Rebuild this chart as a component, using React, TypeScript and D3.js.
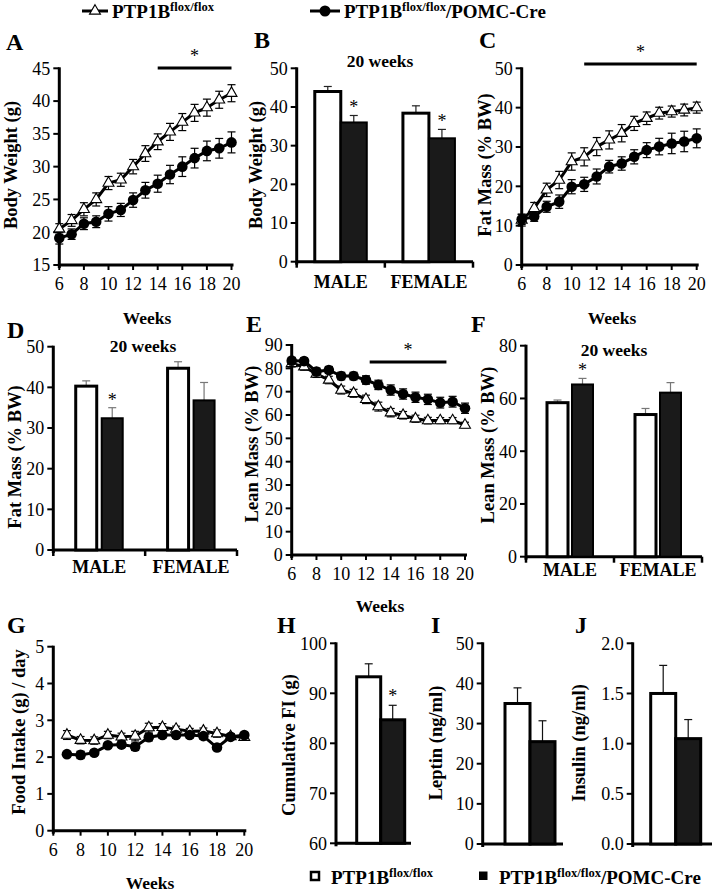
import React from "react";
import * as d3 from "d3";

// ---------- DATA ----------
const weeks = [6, 7, 8, 9, 10, 11, 12, 13, 14, 15, 16, 17, 18, 19, 20];
const weeksFI = [7, 8, 9, 10, 11, 12, 13, 14, 15, 16, 17, 18, 19, 20];
const weekTicks = [6, 8, 10, 12, 14, 16, 18, 20];

const bwCtrl = [20.5, 21.8, 23.5, 25.0, 27.5, 28.0, 30.0, 32.0, 33.8, 35.3, 36.8, 38.2, 39.0, 40.2, 41.2];
const bwCtrlErr = [0.8, 0.9, 1.0, 1.0, 1.0, 1.0, 1.1, 1.2, 1.2, 1.3, 1.3, 1.3, 1.3, 1.3, 1.3];
const bwCre = [19.1, 19.7, 21.3, 21.6, 22.8, 23.4, 24.9, 26.4, 27.4, 28.8, 30.0, 31.3, 32.4, 32.8, 33.7];
const bwCreErr = [0.9, 0.8, 0.9, 0.9, 1.1, 1.0, 1.1, 1.2, 1.3, 1.4, 1.5, 1.5, 1.5, 1.5, 1.6];

const fmCtrl = [11.4, 14.4, 19.1, 21.6, 26.3, 27.5, 30.1, 31.8, 33.5, 36.0, 37.3, 38.6, 39.0, 39.4, 40.0];
const fmCtrlErr = [1.5, 1.5, 1.7, 2.2, 2.2, 2.3, 2.3, 2.3, 2.2, 1.8, 1.6, 1.5, 1.4, 1.5, 1.4];
const fmCre = [11.6, 12.3, 14.8, 16.1, 19.9, 20.5, 22.5, 25.0, 25.8, 27.5, 29.2, 30.1, 30.9, 31.4, 32.2];
const fmCreErr = [1.3, 1.2, 1.4, 1.7, 1.8, 1.8, 1.9, 1.6, 1.7, 1.8, 1.9, 2.1, 2.6, 2.6, 2.4];

const lmCtrl = [82.1, 80.7, 77.6, 75.0, 70.7, 69.3, 66.7, 63.6, 61.0, 59.9, 58.4, 57.6, 57.6, 57.6, 55.7];
const lmCtrlErr = [1.5, 1.5, 1.5, 1.6, 1.7, 1.7, 1.8, 1.9, 1.8, 1.6, 1.5, 1.4, 1.3, 1.3, 1.2];
const lmCre = [83.3, 83.1, 78.6, 79.3, 76.7, 76.7, 75.0, 72.9, 70.7, 69.0, 67.6, 66.7, 65.3, 65.7, 62.9];
const lmCreErr = [1.4, 1.3, 1.5, 1.5, 1.6, 1.6, 1.8, 2.0, 2.2, 2.2, 2.2, 2.2, 2.3, 2.3, 2.2];

const fiCtrl = [2.6, 2.46, 2.45, 2.6, 2.55, 2.57, 2.8, 2.81, 2.76, 2.7, 2.71, 2.64, 2.56, 2.54];
const fiCtrlErr = [0.12, 0.1, 0.1, 0.1, 0.1, 0.13, 0.12, 0.1, 0.08, 0.08, 0.08, 0.1, 0.08, 0.08];
const fiCre = [2.08, 2.06, 2.12, 2.32, 2.34, 2.28, 2.54, 2.6, 2.6, 2.6, 2.57, 2.26, 2.55, 2.6];
const fiCreErr = [0.06, 0.1, 0.07, 0.07, 0.08, 0.1, 0.1, 0.08, 0.08, 0.08, 0.08, 0.08, 0.07, 0.06];

const sexes = ["MALE", "FEMALE"];
const bwBarCtrl = [44.0, 38.4];
const bwBarCtrlErr = [1.3, 1.9];
const bwBarCre = [36.0, 31.9];
const bwBarCreErr = [1.8, 2.3];
const fmBarCtrl = [40.3, 44.7];
const fmBarCtrlErr = [1.3, 1.6];
const fmBarCre = [32.4, 36.8];
const fmBarCreErr = [2.6, 4.4];
const lmBarCtrl = [58.4, 53.9];
const lmBarCtrlErr = [1.0, 2.3];
const lmBarCre = [65.3, 62.2];
const lmBarCreErr = [2.3, 3.8];

const cumFI = [93.3, 84.7];
const cumFIErr = [2.6, 2.9];
const leptin = [35.0, 25.5];
const leptinErr = [3.9, 5.2];
const insulin = [1.5, 1.05];
const insulinErr = [0.28, 0.19];

const FONT = "'Liberation Serif', 'Times New Roman', serif";
const TICK_FS = 18;

// ---------- HELPERS ----------
function YAxis({ x, y, ticks, fmt, bottomExt = 3 }: any) {
  const [r0, r1] = y.range();
  return (
    <g>
      <line x1={x} x2={x} y1={r1 - 1} y2={r0 + bottomExt} stroke="#000" strokeWidth={3} />
      {ticks.map((t: number) => (
        <g key={t}>
          <line x1={x - 6} x2={x} y1={y(t)} y2={y(t)} stroke="#000" strokeWidth={2} />
          <text x={x - 9} y={y(t)} dy="0.35em" textAnchor="end" fontSize={TICK_FS} fontFamily={FONT}>
            {fmt ? fmt(t) : t}
          </text>
        </g>
      ))}
    </g>
  );
}

function YTitle({ x, y, text }: any) {
  return (
    <text transform={`translate(${x},${y}) rotate(-90)`} textAnchor="middle" fontSize={18.5} fontWeight="bold" fontFamily={FONT}>
      {text}
    </text>
  );
}

function PanelLetter({ x, y, t }: any) {
  return (
    <text x={x} y={y} fontSize={24} fontWeight="bold" fontFamily={FONT}>
      {t}
    </text>
  );
}

function ErrBar({ x, y0, y1, color = "#000", cap = 4, both = false, y2 }: any) {
  return (
    <g stroke={color} strokeWidth={1.2}>
      <line x1={x} x2={x} y1={both ? y2 : y0} y2={y1} />
      <line x1={x - cap} x2={x + cap} y1={y1} y2={y1} />
      {both && <line x1={x - cap} x2={x + cap} y1={y2} y2={y2} />}
    </g>
  );
}

const TRI_SIZE = 52;

function LinePanel({ xs, x, y, yTicks, fmt, ctrl, ctrlErr, cre, creErr, xAxisY }: any) {
  const line = d3.line<number>().x((_, i) => x(xs[i])).y((d) => y(d));
  const tri = d3.symbol(d3.symbolTriangle, TRI_SIZE)();
  const [xa, xb] = x.range();
  return (
    <g>
      <YAxis x={xa} y={y} ticks={yTicks} fmt={fmt} />
      <line x1={xa} x2={xb + 2} y1={xAxisY} y2={xAxisY} stroke="#000" strokeWidth={3} />
      {weekTicks.map((w) => (
        <g key={w}>
          <line x1={x(w)} x2={x(w)} y1={xAxisY} y2={xAxisY + 5} stroke="#000" strokeWidth={2} />
          <text x={x(w)} y={xAxisY + 25} textAnchor="middle" fontSize={TICK_FS} fontFamily={FONT}>
            {w}
          </text>
        </g>
      ))}
      {ctrl.map((v: number, i: number) => (
        <ErrBar key={"ce" + i} x={x(xs[i])} y1={y(v + ctrlErr[i])} y2={y(v - ctrlErr[i])} both />
      ))}
      <path d={line(ctrl) as string} fill="none" stroke="#000" strokeWidth={3} />
      {ctrl.map((v: number, i: number) => (
        <path key={"ct" + i} d={tri as string} transform={`translate(${x(xs[i])},${y(v)})`} fill="#fff" stroke="#000" strokeWidth={1.1} />
      ))}
      {cre.map((v: number, i: number) => (
        <ErrBar key={"re" + i} x={x(xs[i])} y1={y(v + creErr[i])} y2={y(v - creErr[i])} both />
      ))}
      <path d={line(cre) as string} fill="none" stroke="#000" strokeWidth={3} />
      {cre.map((v: number, i: number) => (
        <circle key={"rc" + i} cx={x(xs[i])} cy={y(v)} r={5.3} fill="#000" />
      ))}
    </g>
  );
}

function SexBarPanel({ x0, x1, y, yTicks, ctrl, ctrlErr, cre, creErr, barW, gap, errColor, stars, labelY }: any) {
  const band = d3.scaleBand<string>().domain(sexes).range([x0, x1]);
  const yb = y.range()[0];
  return (
    <g>
      <YAxis x={x0} y={y} ticks={yTicks} />
      <line x1={x0} x2={x1} y1={yb} y2={yb} stroke="#000" strokeWidth={3} />
      {[x0, x0 + band.bandwidth(), x1].map((t, i) => (
        <line key={i} x1={t} x2={t} y1={yb} y2={yb + 6} stroke="#000" strokeWidth={2.5} />
      ))}
      {sexes.map((s, i) => {
        const c = (band(s) as number) + band.bandwidth() / 2;
        const wx = c - gap / 2 - barW;
        const bx = c + gap / 2;
        return (
          <g key={s}>
            <ErrBar x={wx + barW / 2} y0={y(ctrl[i])} y1={y(ctrl[i] + ctrlErr[i])} color={errColor} />
            <rect x={wx} y={y(ctrl[i])} width={barW} height={yb - y(ctrl[i])} fill="#fff" stroke="#000" strokeWidth={3} />
            <ErrBar x={bx + barW / 2} y0={y(cre[i])} y1={y(cre[i] + creErr[i])} color={errColor} />
            <rect x={bx} y={y(cre[i])} width={barW} height={yb - y(cre[i])} fill="#1a1a1a" stroke="#000" strokeWidth={2} />
            {stars[i] && (
              <text x={bx + barW / 2} y={y(cre[i] + creErr[i]) - 2} textAnchor="middle" fontSize={18} fontFamily={FONT}>
                *
              </text>
            )}
            <text x={c} y={labelY} textAnchor="middle" fontSize={18} fontWeight="bold" fontFamily={FONT}>
              {s}
            </text>
          </g>
        );
      })}
    </g>
  );
}

function PairBarPanel({ x0, x1, y, yTicks, fmt, vals, errs, barX, barW, star }: any) {
  const yb = y.range()[0];
  return (
    <g>
      <YAxis x={x0} y={y} ticks={yTicks} fmt={fmt} />
      <line x1={x0} x2={x1} y1={yb} y2={yb} stroke="#000" strokeWidth={3} />
      {vals.map((v: number, i: number) => {
        const bx = barX + i * barW;
        return (
          <g key={i}>
            <ErrBar x={bx + barW / 2} y0={y(v)} y1={y(v + errs[i])} color="#111" />
            <rect x={bx} y={y(v)} width={barW} height={yb - y(v)} fill={i === 0 ? "#fff" : "#1a1a1a"} stroke="#000" strokeWidth={3} />
            {star && i === 1 && (
              <text x={bx + barW / 2} y={y(v + errs[i]) - 3} textAnchor="middle" fontSize={18} fontFamily={FONT}>
                *
              </text>
            )}
          </g>
        );
      })}
    </g>
  );
}

function SigBar({ x1, x2, y }: any) {
  return (
    <g>
      <line x1={x1} x2={x2} y1={y} y2={y} stroke="#000" strokeWidth={3} />
      <text x={(x1 + x2) / 2} y={y - 6} textAnchor="middle" fontSize={18} fontFamily={FONT}>
        *
      </text>
    </g>
  );
}

function Geno({ x, y, cre, fs = 19 }: any) {
  return (
    <text x={x} y={y} fontSize={fs} fontWeight="bold" fontFamily={FONT}>
      PTP1B
      <tspan dy={-7} fontSize={fs * 0.66}>flox/flox</tspan>
      {cre && <tspan dy={7}>/POMC-Cre</tspan>}
    </text>
  );
}

export default function App() {
  const xA = d3.scaleLinear().domain([6, 20]).range([59.3, 231.5]);
  const yA = d3.scaleLinear().domain([15, 45]).range([265, 68.3]);
  const yB = d3.scaleLinear().domain([0, 50]).range([261.7, 68.3]);
  const xC = d3.scaleLinear().domain([6, 20]).range([521.7, 696.7]);
  const yC = d3.scaleLinear().domain([0, 50]).range([265, 68.3]);
  const yD = d3.scaleLinear().domain([0, 50]).range([550, 346.7]);
  const xE = d3.scaleLinear().domain([6, 20]).range([291.7, 465]);
  const yE = d3.scaleLinear().domain([0, 90]).range([555, 345]);
  const yF = d3.scaleLinear().domain([0, 80]).range([556.7, 345.7]);
  const xG = d3.scaleLinear().domain([6, 20]).range([53.3, 244.3]);
  const yG = d3.scaleLinear().domain([0, 5]).range([830.7, 646.7]);
  const yH = d3.scaleLinear().domain([60, 100]).range([843.3, 643.3]);
  const yI = d3.scaleLinear().domain([0, 50]).range([844, 643.3]);
  const yJ = d3.scaleLinear().domain([0, 2]).range([844, 643.3]);

  const tri = d3.symbol(d3.symbolTriangle, TRI_SIZE)();

  return (
    <svg width={713} height={894} style={{ position: "absolute", left: 0, top: 0, background: "#fff" }} fontFamily={FONT}>
      <rect width={713} height={894} fill="#fff" />
      {/* Top legend */}
      <line x1={82} x2={108} y1={11} y2={11} stroke="#000" strokeWidth={3} />
      <path d={tri as string} transform="translate(95,11)" fill="#fff" stroke="#000" strokeWidth={1.1} />
      <Geno x={112} y={18} />
      <line x1={310} x2={340} y1={11} y2={11} stroke="#000" strokeWidth={3} />
      <circle cx={325} cy={11} r={5.5} fill="#000" />
      <Geno x={344} y={18} cre />

      {/* A */}
      <PanelLetter x={6} y={50} t="A" />
      <LinePanel xs={weeks} x={xA} y={yA} yTicks={[15, 20, 25, 30, 35, 40, 45]} ctrl={bwCtrl} ctrlErr={bwCtrlErr} cre={bwCre} creErr={bwCreErr} xAxisY={265} />
      <SigBar x1={xA(14)} x2={xA(20)} y={68} />
      <YTitle x={17} y={165} text="Body Weight (g)" />
      <text x={147} y={324} textAnchor="middle" fontSize={17.5} fontWeight="bold">Weeks</text>

      {/* B */}
      <PanelLetter x={254} y={48} t="B" />
      <SexBarPanel x0={296.7} x1={473} y={yB} yTicks={[0, 10, 20, 30, 40, 50]} ctrl={bwBarCtrl} ctrlErr={bwBarCtrlErr} cre={bwBarCre} creErr={bwBarCreErr} barW={26} gap={0} errColor="#222" stars={[true, true]} labelY={288} />
      <text x={380} y={67} textAnchor="middle" fontSize={17.5} fontWeight="bold">20 weeks</text>
      <YTitle x={262} y={165} text="Body Weight (g)" />

      {/* C */}
      <PanelLetter x={479} y={48} t="C" />
      <LinePanel xs={weeks} x={xC} y={yC} yTicks={[0, 10, 20, 30, 40, 50]} ctrl={fmCtrl} ctrlErr={fmCtrlErr} cre={fmCre} creErr={fmCreErr} xAxisY={265} />
      <SigBar x1={xC(11)} x2={xC(20)} y={64} />
      <YTitle x={491} y={165} text="Fat Mass  (% BW)" />
      <text x={612} y={324} textAnchor="middle" fontSize={17.5} fontWeight="bold">Weeks</text>

      {/* D */}
      <PanelLetter x={7} y={338} t="D" />
      <SexBarPanel x0={53.3} x1={237} y={yD} yTicks={[0, 10, 20, 30, 40, 50]} ctrl={fmBarCtrl} ctrlErr={fmBarCtrlErr} cre={fmBarCre} creErr={fmBarCreErr} barW={21} gap={5} errColor="#777" stars={[true, false]} labelY={573} />
      <text x={143} y={352} textAnchor="middle" fontSize={17.5} fontWeight="bold">20 weeks</text>
      <YTitle x={21} y={457} text="Fat Mass (% BW)" />

      {/* E */}
      <PanelLetter x={246} y={332} t="E" />
      <LinePanel xs={weeks} x={xE} y={yE} yTicks={[0, 10, 20, 30, 40, 50, 60, 70, 80, 90]} ctrl={lmCtrl} ctrlErr={lmCtrlErr} cre={lmCre} creErr={lmCreErr} xAxisY={555} />
      <SigBar x1={xE(12.3)} x2={xE(18.5)} y={362} />
      <YTitle x={258} y={444} text="Lean Mass (% BW)" />
      <text x={380} y={612} textAnchor="middle" fontSize={17.5} fontWeight="bold">Weeks</text>

      {/* F */}
      <PanelLetter x={471} y={332} t="F" />
      <SexBarPanel x0={526} x1={702} y={yF} yTicks={[0, 20, 40, 60, 80]} ctrl={lmBarCtrl} ctrlErr={lmBarCtrlErr} cre={lmBarCre} creErr={lmBarCreErr} barW={21} gap={4} errColor="#777" stars={[true, false]} labelY={576} />
      <text x={614} y={356} textAnchor="middle" fontSize={17.5} fontWeight="bold">20 weeks</text>
      <YTitle x={494} y={445} text="Lean Mass (% BW)" />

      {/* G */}
      <PanelLetter x={7} y={633} t="G" />
      <LinePanel xs={weeksFI} x={xG} y={yG} yTicks={[0, 1, 2, 3, 4, 5]} ctrl={fiCtrl} ctrlErr={fiCtrlErr} cre={fiCre} creErr={fiCreErr} xAxisY={830.7} />
      <YTitle x={25} y={732} text="Food Intake (g) / day" />
      <text x={150} y={889} textAnchor="middle" fontSize={17.5} fontWeight="bold">Weeks</text>

      {/* H */}
      <PanelLetter x={277} y={633} t="H" />
      <PairBarPanel x0={336} x1={411} y={yH} yTicks={[60, 70, 80, 90, 100]} vals={cumFI} errs={cumFIErr} barX={356.7} barW={24} star />
      <YTitle x={295} y={745} text="Cumulative FI (g)" />

      {/* I */}
      <PanelLetter x={431} y={633} t="I" />
      <PairBarPanel x0={482.7} x1={563} y={yI} yTicks={[0, 10, 20, 30, 40, 50]} vals={leptin} errs={leptinErr} barX={505} barW={25} />
      <YTitle x={442} y={743} text="Leptin (ng/ml)" />

      {/* J */}
      <PanelLetter x={575} y={633} t="J" />
      <PairBarPanel x0={632.7} x1={712} y={yJ} yTicks={[0, 0.5, 1, 1.5, 2]} fmt={(v: number) => v.toFixed(1)} vals={insulin} errs={insulinErr} barX={650.7} barW={25} />
      <YTitle x={585} y={743} text="Insulin (ng/ml)" />

      {/* Bottom legend */}
      <rect x={311} y={872} width={8} height={8} fill="#fff" stroke="#000" strokeWidth={2.5} />
      <Geno x={331} y={884} fs={19} />
      <rect x={479} y={871.5} width={8.5} height={8.5} fill="#000" />
      <Geno x={499} y={884} fs={19} cre />
    </svg>
  );
}
